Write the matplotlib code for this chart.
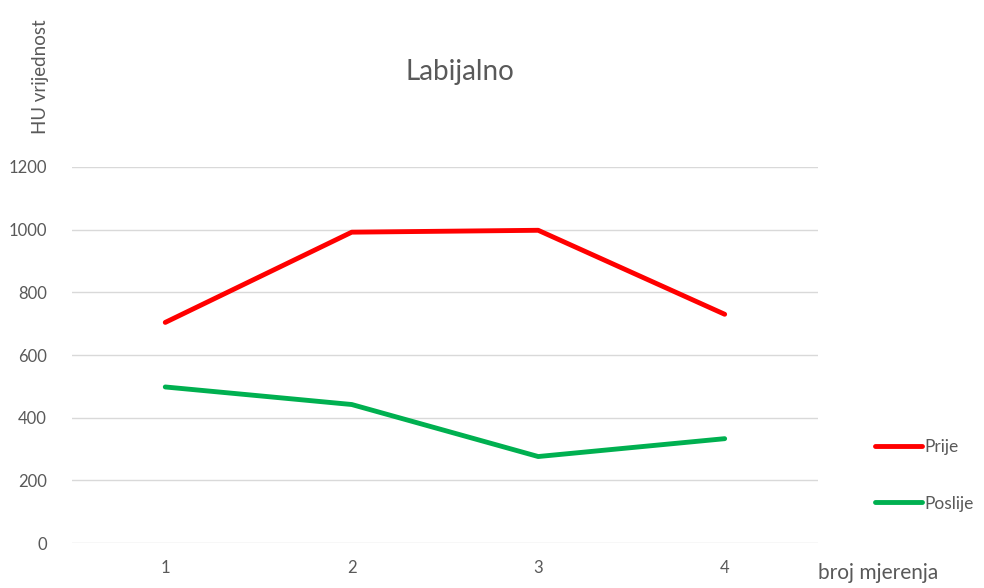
import matplotlib.pyplot as plt

# measurements
categories = ['1', '2', '3', '4']
prije = [704, 992, 998, 730]
poslije = [498, 442, 276, 333]
y_ticks = [0, 200, 400, 600, 800, 1000, 1200]

plt.rcParams['font.family'] = ['Lato', 'DejaVu Sans']

fig = plt.figure(figsize=(9.84, 5.88), dpi=100)
ax = fig.add_axes([0.0732, 0.0765, 0.758, 0.6395])

x = range(1, len(categories) + 1)
ax.plot(x, prije, color='#FF0000', lw=3.5, label='Prije', solid_capstyle='round')
ax.plot(x, poslije, color='#00B050', lw=3.5, label='Poslije', solid_capstyle='round')

ax.set_xlim(0.5, 4.5)
ax.set_ylim(0, 1200)
ax.set_xticks(list(x))
ax.set_xticklabels(categories)
ax.set_yticks(y_ticks)
ax.tick_params(length=0, labelsize=12, colors='#595959', pad=12)
ax.tick_params(axis='y', pad=18)
ax.grid(axis='y', color='#D9D9D9', lw=1)
ax.set_axisbelow(True)
for s in ax.spines.values():
    s.set_visible(False)

fig.text(0.467, 0.877, 'Labijalno', fontsize=20, color='#595959', ha='center', va='center')
fig.text(0.041, 0.87, 'HU vrijednost', fontsize=13.5, color='#595959', rotation=90,
         ha='center', va='center')
fig.text(0.831, 0.025, 'broj mjerenja', fontsize=15, color='#595959', ha='left', va='center')

leg = fig.legend(loc='center left', bbox_to_anchor=(0.873, 0.192), frameon=False,
                 handlelength=2.75, handletextpad=0.1, labelspacing=2.35, fontsize=12.5)
for t in leg.get_texts():
    t.set_color('#595959')

fig.savefig('out.png', dpi=100)
